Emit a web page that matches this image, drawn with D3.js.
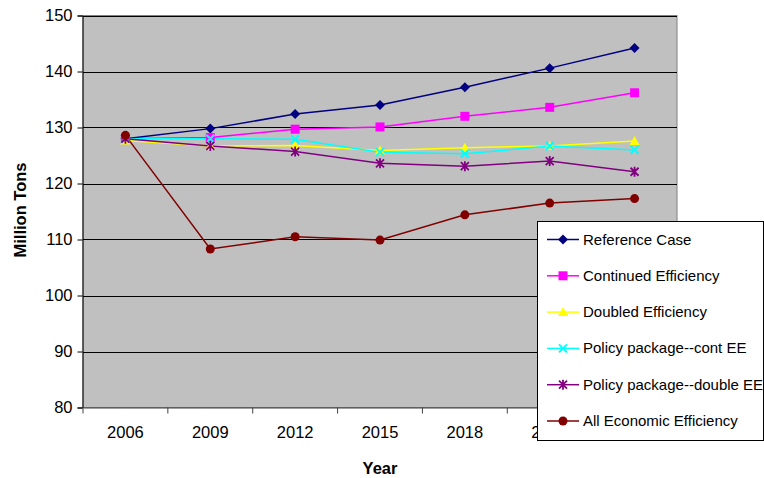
<!DOCTYPE html>
<html>
<head>
<meta charset="utf-8">
<script src="https://cdn.jsdelivr.net/npm/d3@7"></script>
<style>
    body { margin: 0; background: #fff; overflow: hidden; }
    svg { display: block; font-family: "Liberation Sans", Arial, sans-serif; }
    .tick text { font-size: 16.5px; fill: #000; }
    .axisTitle { font-size: 16.5px; font-weight: bold; }
    .legend text { font-size: 15px; }
</style>
</head>
<body>
<script>
'use strict';

const years = ['2006', '2009', '2012', '2015', '2018', '2021', '2024'];
const yTicks = [80, 90, 100, 110, 120, 130, 140, 150];

const referenceCase = [128.0, 129.8, 132.4, 134.0, 137.2, 140.6, 144.2];
const continuedEfficiency = [128.0, 128.2, 129.7, 130.1, 132.0, 133.6, 136.2];
const doubledEfficiency = [127.7, 126.7, 126.8, 125.9, 126.4, 126.7, 127.6];
const policyContEE = [128.0, 128.0, 127.9, 125.6, 125.3, 126.7, 126.0];
const policyDoubleEE = [128.0, 126.7, 125.7, 123.6, 123.1, 124.0, 122.1];
const allEconomic = [128.6, 108.3, 110.5, 109.9, 114.4, 116.5, 117.3];

const seriesNames = ['Reference Case', 'Continued Efficiency', 'Doubled Efficiency',
    'Policy package--cont EE', 'Policy package--double EE', 'All Economic Efficiency'];

(function () {

    function getSeries() {
        const vals = [referenceCase, continuedEfficiency, doubledEfficiency,
            policyContEE, policyDoubleEE, allEconomic];
        const colors = ['#000080', '#FF00FF', '#FFFF00', '#00FFFF', '#800080', '#800000'];
        const markers = ['diamond', 'square', 'triangle', 'x', 'star', 'circle'];
        return seriesNames.map((name, i) => ({
            name: name, values: vals[i], color: colors[i], marker: markers[i]
        }));
    }

    const plot = {
        width: 764, height: 478,
        left: 83, top: 15.5, right: 677, bottom: 407.5
    };

    function drawMarker(g, type, color) {
        if (type === 'diamond') {
            g.append('path').attr('d', 'M0,-5L5,0L0,5L-5,0Z').attr('fill', color);
        } else if (type === 'square') {
            g.append('rect').attr('x', -4.5).attr('y', -4.5).attr('width', 9).attr('height', 9).attr('fill', color);
        } else if (type === 'triangle') {
            g.append('path').attr('d', 'M0,-5L5,4L-5,4Z').attr('fill', color);
        } else if (type === 'x') {
            g.append('path').attr('d', 'M-4,-4L4,4M-4,4L4,-4').attr('stroke', color).attr('stroke-width', 2);
        } else if (type === 'star') {
            g.append('path').attr('d', 'M-4,-4L4,4M-4,4L4,-4M0,-5L0,5').attr('stroke', color).attr('stroke-width', 1.8);
        } else {
            g.append('circle').attr('r', 4.5).attr('fill', color);
        }
    }

    function draw() {
        const series = getSeries();
        const svg = d3.select('body').append('svg')
            .attr('width', plot.width).attr('height', plot.height);

        const x = d3.scaleBand().domain(years).range([plot.left, plot.right]);
        const y = d3.scaleLinear().domain([80, 150]).range([plot.bottom, plot.top]);

        svg.append('rect')
            .attr('x', plot.left).attr('y', plot.top)
            .attr('width', plot.right - plot.left).attr('height', plot.bottom - plot.top)
            .attr('fill', '#C0C0C0').attr('stroke', '#808080').attr('stroke-width', 1);

        // gridlines
        svg.append('g').selectAll('line')
            .data(yTicks.slice(1))
            .enter().append('line')
            .attr('x1', plot.left).attr('x2', plot.right)
            .attr('y1', d => Math.round(y(d)) + 0.5).attr('y2', d => Math.round(y(d)) + 0.5)
            .attr('stroke', '#000').attr('stroke-width', 1);

        const yAxis = svg.append('g')
            .attr('transform', 'translate(' + (plot.left - 0.5) + ',0)')
            .call(d3.axisLeft(y).tickValues(yTicks).tickSize(5).tickPadding(5));
        yAxis.select('.domain').attr('stroke', '#000');

        const xAxis = svg.append('g')
            .attr('transform', 'translate(0,' + (plot.bottom) + ')')
            .call(d3.axisBottom(x).tickSize(0).tickPadding(19));
        xAxis.select('.domain').attr('stroke', '#404040');
        // ticks between categories
        xAxis.selectAll('.sepTick')
            .data(d3.range(years.length + 1))
            .enter().append('line')
            .attr('class', 'sepTick')
            .attr('x1', i => plot.left + i * x.bandwidth()).attr('x2', i => plot.left + i * x.bandwidth())
            .attr('y1', 0).attr('y2', 6)
            .attr('stroke', '#404040');

        const line = d3.line()
            .x((d, i) => x(years[i]) + x.bandwidth() / 2)
            .y(d => y(d));

        series.forEach(s => {
            svg.append('path')
                .attr('d', line(s.values))
                .attr('fill', 'none')
                .attr('stroke', s.color)
                .attr('stroke-width', 1.5);
        });
        series.forEach(s => {
            s.values.forEach((v, i) => {
                const g = svg.append('g')
                    .attr('transform', 'translate(' + (x(years[i]) + x.bandwidth() / 2) + ',' + y(v) + ')');
                drawMarker(g, s.marker, s.color);
            });
        });

        svg.append('text')
            .attr('class', 'axisTitle')
            .attr('text-anchor', 'middle')
            .attr('transform', 'translate(26,210) rotate(-90)')
            .text('Million Tons');

        svg.append('text')
            .attr('class', 'axisTitle')
            .attr('text-anchor', 'middle')
            .attr('x', 380).attr('y', 474)
            .text('Year');

        // legend (sits over the plot, covering part of the last tick labels)
        const legend = svg.append('g').attr('class', 'legend');
        legend.append('rect')
            .attr('x', 537.5).attr('y', 221.5).attr('width', 226).attr('height', 219)
            .attr('fill', '#fff').attr('stroke', '#000').attr('stroke-width', 1);
        series.forEach((s, i) => {
            const ly = 239.5 + i * 36.3;
            legend.append('line')
                .attr('x1', 547).attr('x2', 579).attr('y1', ly).attr('y2', ly)
                .attr('stroke', s.color).attr('stroke-width', 1.5);
            drawMarker(legend.append('g').attr('transform', 'translate(563,' + ly + ')'), s.marker, s.color);
            legend.append('text')
                .attr('x', 583).attr('y', ly + 5)
                .text(s.name);
        });
    }

    window.onload = draw;
})();
</script>
</body>
</html>
